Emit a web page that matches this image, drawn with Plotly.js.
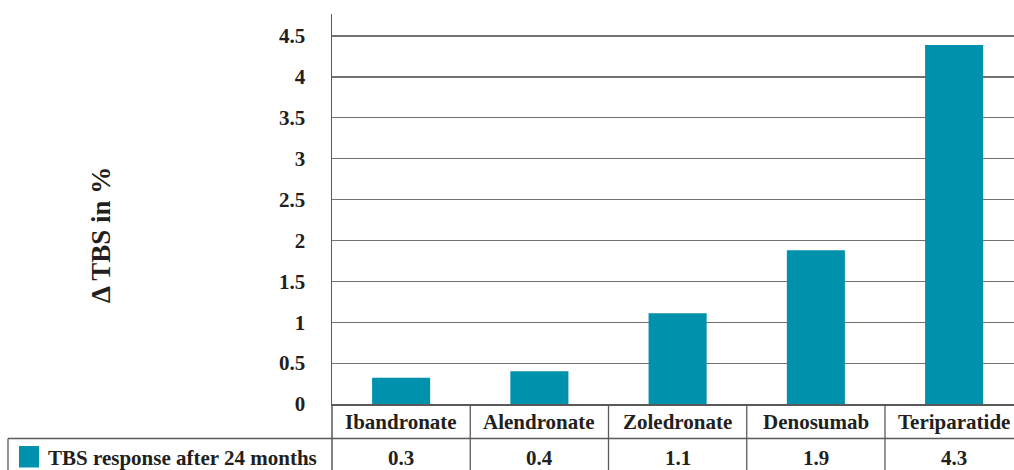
<!DOCTYPE html>
<html>
<head>
<meta charset="utf-8">
<script src="https://cdn.plot.ly/plotly-3.0.1.min.js"></script>
<style>html,body{margin:0;padding:0;background:#fff;}#chart{width:1014px;height:470px;}</style>
</head>
<body>
<div id="chart"></div>
<script>
const categories = ["Ibandronate", "Alendronate", "Zoledronate", "Denosumab", "Teriparatide"];
const barValues = [0.32, 0.40, 1.11, 1.88, 4.39];
const tableLabels = ["0.3", "0.4", "1.1", "1.9", "4.3"];
const seriesName = "TBS response after 24 months";
const yTickVals = [0, 0.5, 1, 1.5, 2, 2.5, 3, 3.5, 4, 4.5];
const yTickText = ["0", "0.5", "1", "1.5", "2", "2.5", "3", "3.5", "4", "4.5"];

const W = 1014, H = 470, ML = 332, MT = 14, MB = 66;
const PW = W - ML, PH = H - MT - MB;
const catW = 138.25;
const xMax = -0.5 + PW / catW;
const px2paperX = px => (px - ML) / PW;
const py2paperY = py => (H - MB - py) / PH;

const fam = "Liberation Serif";
const lineCol = "#5a5a5a";
const bar = "#0091ac";
const txt = "#231f20";

const shapes = [];
const annotations = [];
shapes.push({type: "line", xref: "paper", yref: "paper", x0: px2paperX(8), x1: 1, y0: py2paperY(438.5), y1: py2paperY(438.5), line: {color: lineCol, width: 1.3}});
shapes.push({type: "line", xref: "paper", yref: "paper", x0: 0, x1: 0, y0: 0, y1: py2paperY(471), line: {color: lineCol, width: 1.5}});
shapes.push({type: "line", xref: "paper", yref: "paper", x0: px2paperX(8), x1: px2paperX(8), y0: py2paperY(438.5), y1: py2paperY(471), line: {color: lineCol, width: 1.3}});
for (let i = 0; i < categories.length - 1; i++) {
  shapes.push({type: "line", xref: "x", yref: "paper", x0: i + 0.5, x1: i + 0.5, y0: 0, y1: py2paperY(471), line: {color: lineCol, width: 1.3}});
}
shapes.push({type: "rect", xref: "paper", yref: "paper", x0: px2paperX(19), x1: px2paperX(39), y0: py2paperY(446), y1: py2paperY(467.5), fillcolor: bar, line: {width: 0}});

categories.forEach((c, i) => {
  annotations.push({x: c, xref: "x", yref: "paper", y: py2paperY(421.5), text: "<b>" + c + "</b>", showarrow: false, xanchor: "center", yanchor: "middle", font: {family: fam, size: 21, color: txt}});
  annotations.push({x: c, xref: "x", yref: "paper", y: py2paperY(457.5), text: "<b>" + tableLabels[i] + "</b>", showarrow: false, xanchor: "center", yanchor: "middle", font: {family: fam, size: 21, color: txt}});
});
annotations.push({x: px2paperX(46), xref: "paper", yref: "paper", y: py2paperY(457.5), text: "<b>" + seriesName + "</b>", showarrow: false, xanchor: "left", yanchor: "middle", font: {family: fam, size: 21, color: txt}});
annotations.push({x: px2paperX(101), xref: "paper", yref: "paper", y: py2paperY(235), text: "<b>Δ TBS in %</b>", textangle: -90, showarrow: false, xanchor: "center", yanchor: "middle", font: {family: fam, size: 27, color: txt}});

const data = [{
  type: "bar", x: categories, y: barValues, name: seriesName,
  marker: {color: bar, line: {width: 0}}, hoverinfo: "skip"
}];

const layout = {
  width: W, height: H,
  margin: {l: ML, r: 0, t: MT, b: MB, pad: 0},
  paper_bgcolor: "#fff", plot_bgcolor: "#fff",
  showlegend: false, bargap: 0.58,
  xaxis: {type: "category", range: [-0.5, xMax], showgrid: false, zeroline: false, showline: true, linecolor: lineCol, linewidth: 1.5, showticklabels: false, ticks: "", fixedrange: true},
  yaxis: {range: [0, PH / 81.76], tickvals: yTickVals, ticktext: yTickText, showgrid: true, gridcolor: "#727272", gridwidth: 1.2, zeroline: false, showline: true, linecolor: lineCol, linewidth: 1.5, ticks: "", ticklabelstandoff: 21, tickfont: {family: fam, size: 21, color: txt, weight: "bold"}, fixedrange: true},
  shapes: shapes,
  annotations: annotations,
  font: {family: fam}
};

Plotly.newPlot("chart", data, layout, {displayModeBar: false, staticPlot: true});
</script>
</body>
</html>
